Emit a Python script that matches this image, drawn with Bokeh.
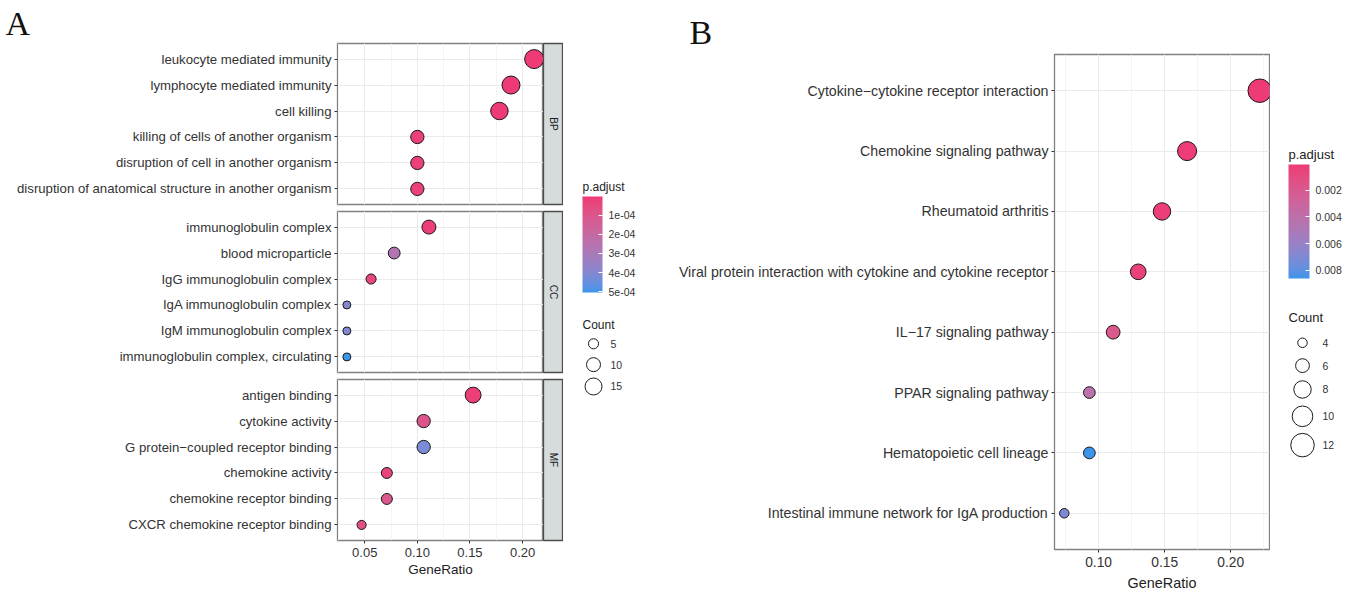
import math
import numpy as np
from bokeh.plotting import figure
from bokeh.layouts import column, row
from bokeh.models import (FactorRange, Range1d, ColumnDataSource, LinearColorMapper, ColorBar,
                          SingleIntervalTicker, FixedTicker, PrintfTickFormatter,
                          CustomJSTickFormatter, AllLabels)
from bokeh.core.properties import value
from bokeh.embed import file_html
from bokeh.resources import INLINE

# ---------------- Panel A data (GO enrichment, facets BP / CC / MF) ----------------
facets = ["BP", "CC", "MF"]

bp_terms = ["leukocyte mediated immunity", "lymphocyte mediated immunity", "cell killing",
            "killing of cells of another organism", "disruption of cell in another organism",
            "disruption of anatomical structure in another organism"]
bp_ratio = [0.211, 0.189, 0.178, 0.100, 0.100, 0.100]
bp_count = [19, 17, 16, 9, 9, 9]
bp_padj = [1e-6, 1e-6, 2e-6, 1.5e-5, 1.5e-5, 1.5e-5]

cc_terms = ["immunoglobulin complex", "blood microparticle", "IgG immunoglobulin complex",
            "IgA immunoglobulin complex", "IgM immunoglobulin complex",
            "immunoglobulin complex, circulating"]
cc_ratio = [0.111, 0.078, 0.056, 0.033, 0.033, 0.033]
cc_count = [10, 7, 5, 3, 3, 3]
cc_padj = [1.0e-5, 2.7e-4, 4.0e-5, 4.0e-4, 4.0e-4, 5.05e-4]

mf_terms = ["antigen binding", "cytokine activity", "G protein\u2212coupled receptor binding",
            "chemokine activity", "chemokine receptor binding", "CXCR chemokine receptor binding"]
mf_ratio = [0.153, 0.106, 0.106, 0.071, 0.071, 0.047]
mf_count = [13, 9, 9, 6, 6, 4]
mf_padj = [1.0e-5, 9.0e-5, 4.2e-4, 3.0e-5, 1.1e-4, 7.0e-5]

a_padj_ticks = [1e-4, 2e-4, 3e-4, 4e-4, 5e-4]
a_count_breaks = [5, 10, 15]
a_xticks_interval = 0.05

# ---------------- Panel B data (KEGG enrichment) ----------------
kegg_terms = ["Cytokine\u2212cytokine receptor interaction", "Chemokine signaling pathway",
              "Rheumatoid arthritis",
              "Viral protein interaction with cytokine and cytokine receptor",
              "IL\u221217 signaling pathway", "PPAR signaling pathway",
              "Hematopoietic cell lineage", "Intestinal immune network for IgA production"]
kegg_ratio = [0.222, 0.167, 0.148, 0.130, 0.111, 0.093, 0.093, 0.074]
kegg_count = [12, 9, 8, 7, 6, 5, 5, 4]
kegg_padj = [8e-5, 1.5e-4, 3e-4, 4e-4, 1.8e-3, 4.2e-3, 8.6e-3, 7.0e-3]

b_padj_ticks = [0.002, 0.004, 0.006, 0.008]
b_count_breaks = [4, 6, 8, 10, 12]
b_xticks_interval = 0.05

# ---------------- styling ----------------
FONT = "Liberation Sans"
LOW_COL = "#EE3B76"    # small p.adjust
HIGH_COL = "#3C95EA"   # large p.adjust
TXT = "#333333"
GRID = "#EBEBEB"
MINOR = "#F4F4F4"
BORDER = "#808080"
STRIP_FILL = "#D6DCDC"

M = np.array([[0.4124, 0.3576, 0.1805], [0.2126, 0.7152, 0.0722], [0.0193, 0.1192, 0.9505]])
WP = np.array([0.95047, 1.0, 1.08883])


def hex2rgb(h):
    return np.array([int(h[i:i + 2], 16) for i in (1, 3, 5)], float) / 255


def rgb2lab(rgb):
    lin = np.where(rgb <= 0.04045, rgb / 12.92, ((rgb + 0.055) / 1.055) ** 2.4)
    t = (M @ lin) / WP
    f = np.where(t > (6 / 29) ** 3, np.cbrt(t), t / (3 * (6 / 29) ** 2) + 4 / 29)
    return np.array([116 * f[1] - 16, 500 * (f[0] - f[1]), 200 * (f[1] - f[2])])


def lab2hex(lab):
    L, a, b = lab
    fy = (L + 16) / 116
    f = np.array([fy + a / 500, fy, fy - b / 200])
    t = np.where(f > 6 / 29, f ** 3, 3 * (6 / 29) ** 2 * (f - 4 / 29))
    lin = np.clip(np.linalg.inv(M) @ (t * WP), 0, 1)
    rgb = np.where(lin <= 0.0031308, 12.92 * lin, 1.055 * lin ** (1 / 2.4) - 0.055)
    return "#%02x%02x%02x" % tuple(int(round(v * 255)) for v in np.clip(rgb, 0, 1))


def gradient(c_from, c_to, n=256):
    l1, l2 = rgb2lab(hex2rgb(c_from)), rgb2lab(hex2rgb(c_to))
    return [lab2hex(l1 + (l2 - l1) * i / (n - 1)) for i in range(n)]


PALETTE = gradient(HIGH_COL, LOW_COL)  # index 0 = largest p.adjust (mapper works on -p)


def size_scale(counts, cmin, cmax, dmin, dmax):
    a, b = math.sqrt(cmin), math.sqrt(cmax)
    return [dmin + (math.sqrt(c) - a) / (b - a) * (dmax - dmin) for c in counts]


def expand(vals, frac=0.05):
    lo, hi = min(vals), max(vals)
    d = (hi - lo) * frac
    return lo - d, hi + d


def style_axes(p, ylab_size, xlab_size, title_size, title_standoff):
    ya = p.yaxis[0]
    ya.axis_line_color = None
    ya.major_tick_out = 3
    ya.major_tick_in = 0
    ya.major_tick_line_color = TXT
    ya.major_label_standoff = 3
    ya.major_label_text_font = FONT
    ya.major_label_text_font_size = ylab_size
    ya.major_label_text_color = TXT
    if xlab_size is not None:
        xa = p.xaxis[0]
        xa.ticker = SingleIntervalTicker(interval=a_xticks_interval, num_minor_ticks=2)
        xa.formatter = PrintfTickFormatter(format="%.2f")
        xa.axis_line_color = None
        xa.minor_tick_line_color = None
        xa.major_tick_out = 3
        xa.major_tick_in = 0
        xa.major_tick_line_color = TXT
        xa.major_label_standoff = 3
        xa.major_label_text_font = FONT
        xa.major_label_text_font_size = xlab_size
        xa.major_label_text_color = TXT
        xa.axis_label = "GeneRatio"
        xa.axis_label_text_font = FONT
        xa.axis_label_text_font_size = title_size
        xa.axis_label_text_font_style = "normal"
        xa.axis_label_text_color = "#222222"
        xa.axis_label_standoff = title_standoff


def letter_title(p, letter, offset, standoff):
    p.title.text = letter
    p.title.text_font = "Liberation Serif"
    p.title.text_font_size = "34px"
    p.title.text_font_style = "normal"
    p.title.text_color = "#111111"
    p.title.align = "left"
    p.title.offset = offset
    p.title.standoff = standoff


# ---------------- Panel A ----------------
all_a_ratio = bp_ratio + cc_ratio + mf_ratio
all_a_count = bp_count + cc_count + mf_count
all_a_padj = bp_padj + cc_padj + mf_padj
xa0, xa1 = expand(all_a_ratio)
xrA = Range1d(xa0, xa1)
mapA = LinearColorMapper(palette=PALETTE, low=-max(all_a_padj), high=-min(all_a_padj))
A_CMIN, A_CMAX = min(all_a_count), max(all_a_count)
A_DMIN, A_DMAX = 8.0, 19.0

FRAME_H = 161


def make_facet(name, terms, ratio, count, padj, t, b, show_x, letter=None):
    n = len(terms)
    src = ColumnDataSource(dict(term=terms, ratio=ratio, count=count,
                                negp=[-v for v in padj],
                                size=size_scale(count, A_CMIN, A_CMAX, A_DMIN, A_DMAX)))
    p = figure(width=543, height=t + FRAME_H + b, x_range=xrA,
               y_range=FactorRange(factors=terms[::-1], range_padding=0.2 / n),
               output_backend="svg", toolbar_location=None,
               x_axis_location="below" if show_x else None,
               min_border_left=337, min_border_right=0, min_border_top=t, min_border_bottom=b)
    if letter:
        letter_title(p, letter, -332, 3)
    p.outline_line_color = BORDER
    p.outline_line_width = 1.3
    p.xgrid.ticker = SingleIntervalTicker(interval=a_xticks_interval, num_minor_ticks=2)
    p.xgrid.grid_line_color = GRID
    p.xgrid.minor_grid_line_color = MINOR
    p.ygrid.grid_line_color = GRID
    p.scatter(x="ratio", y="term", size="size", source=src,
              fill_color={"field": "negp", "transform": mapA},
              line_color="#1a1a1a", line_width=1)
    style_axes(p, "13.2px", "13px" if show_x else None, "13.5px", 2)

    s = figure(width=20, height=t + FRAME_H + b, x_range=Range1d(0, 1), y_range=Range1d(0, 1),
               output_backend="svg", toolbar_location=None,
               x_axis_location=None, y_axis_location=None,
               min_border_left=0, min_border_right=0, min_border_top=t, min_border_bottom=b,
               background_fill_color=STRIP_FILL)
    s.grid.visible = False
    s.outline_line_color = "#4d4d4d"
    s.outline_line_width = 1.3
    s.text(x=[0.5], y=[0.5], text=[name], angle=-math.pi / 2, text_align="center",
           text_baseline="middle", text_font=value(FONT), text_font_size=value("10px"),
           text_color="#1a1a1a")
    return row(p, s)


fBP = make_facet(facets[0], bp_terms, bp_ratio, bp_count, bp_padj, 43, 3, False, "A")
fCC = make_facet(facets[1], cc_terms, cc_ratio, cc_count, cc_padj, 4, 3, False)
fMF = make_facet(facets[2], mf_terms, mf_ratio, mf_count, mf_padj, 4, 53, True)
colA = column(fBP, fCC, fMF)

H = 593
TOPB, BOTB = 54, 41           # panel B frame spans page y 54 .. 552
FR_TOP, FR_BOT = TOPB, H - BOTB


def legend_fig(w):
    f = figure(width=w, height=H, x_range=Range1d(0, w), y_range=Range1d(FR_BOT, FR_TOP),
               output_backend="svg", toolbar_location=None,
               min_border_left=0, min_border_right=0, min_border_top=TOPB, min_border_bottom=BOTB,
               x_axis_location=None, y_axis_location=None)
    f.grid.visible = False
    f.outline_line_color = None
    return f


def add_colorbar(f, mapper, ticks, formatter, x, top, bottom, w):
    cb = ColorBar(color_mapper=mapper, location=(x, FR_BOT - bottom), orientation="vertical",
                  width=w, height=bottom - top, padding=0, margin=0, title=None,
                  ticker=FixedTicker(ticks=[-t for t in ticks]), formatter=formatter,
                  major_label_policy=AllLabels(),
                  major_label_text_font=FONT, major_label_text_font_size="10.5px",
                  major_label_text_color=TXT, label_standoff=6,
                  major_tick_line_color="white", major_tick_in=4, major_tick_out=0,
                  minor_tick_line_color=None, bar_line_color=None, border_line_color=None,
                  background_fill_color=None)
    f.add_layout(cb)


def add_size_legend(f, title_xy, title_size, breaks, ys, cx, lx, sizes):
    f.text(x=[title_xy[0]], y=[title_xy[1]], text=["Count"], text_font=value(FONT),
           text_font_size=value(title_size), text_baseline="middle", text_align="left",
           text_color="#222222")
    f.scatter(x=[cx] * len(breaks), y=ys, size=sizes, fill_color="white",
              line_color="#1a1a1a", line_width=1)
    f.text(x=[lx] * len(breaks), y=ys, text=[str(c) for c in breaks], text_font=value(FONT),
           text_font_size=value("10.5px"), text_baseline="middle", text_align="left",
           text_color=TXT)


# legend A (figure spans page x 562 .. 660)
legA = legend_fig(98)
legA.text(x=[19], y=[187], text=["p.adjust"], text_font=value(FONT), text_font_size=value("12px"),
          text_baseline="middle", text_align="left", text_color="#222222")
add_colorbar(legA, mapA, a_padj_ticks, CustomJSTickFormatter(code="""
    const s = (-tick).toExponential(0);
    return s.replace(/e([+-])(\\d)$/, (m, a, b) => "e" + a + "0" + b);
"""), 19, 199, 295, 20)
add_size_legend(legA, (19, 326), "12px", a_count_breaks, [345, 366, 388], 30, 47,
                size_scale(a_count_breaks, A_CMIN, A_CMAX, A_DMIN, A_DMAX))

# ---------------- Panel B ----------------
xb0, xb1 = expand(kegg_ratio)
mapB = LinearColorMapper(palette=PALETTE, low=-max(kegg_padj), high=-min(kegg_padj))
B_CMIN, B_CMAX = min(kegg_count), max(kegg_count)
B_DMIN, B_DMAX = 9.5, 23.5
srcB = ColumnDataSource(dict(term=kegg_terms, ratio=kegg_ratio, count=kegg_count,
                             negp=[-v for v in kegg_padj],
                             size=size_scale(kegg_count, B_CMIN, B_CMAX, B_DMIN, B_DMAX)))
nB = len(kegg_terms)
pB = figure(width=609, height=H, x_range=Range1d(xb0, xb1),
            y_range=FactorRange(factors=kegg_terms[::-1], range_padding=0.2 / nB),
            output_backend="svg", toolbar_location=None,
            min_border_left=393, min_border_right=1, min_border_top=TOPB, min_border_bottom=BOTB)
letter_title(pB, "B", 688 - 1053, 8)
pB.outline_line_color = BORDER
pB.outline_line_width = 1.3
pB.xgrid.ticker = SingleIntervalTicker(interval=b_xticks_interval, num_minor_ticks=2)
pB.xgrid.grid_line_color = GRID
pB.xgrid.minor_grid_line_color = MINOR
pB.ygrid.grid_line_color = GRID
pB.scatter(x="ratio", y="term", size="size", source=srcB,
           fill_color={"field": "negp", "transform": mapB},
           line_color="#1a1a1a", line_width=1)
style_axes(pB, "14.2px", "13.8px", "14.4px", 5)

# legend B (figure spans page x 1269 .. 1357)
legB = legend_fig(88)
legB.text(x=[18], y=[155], text=["p.adjust"], text_font=value(FONT), text_font_size=value("13px"),
          text_baseline="middle", text_align="left", text_color="#222222")
add_colorbar(legB, mapB, b_padj_ticks, CustomJSTickFormatter(code="return (-tick).toFixed(3);"),
             18, 167, 281, 21)
add_size_legend(legB, (18, 319), "13px", b_count_breaks, [344, 367, 391, 418, 447], 32, 52,
                size_scale(b_count_breaks, B_CMIN, B_CMAX, B_DMIN, B_DMAX))

layout = row(colA, legA, pB, legB)

with open("out.html", "w") as f:
    f.write(file_html(layout, INLINE))
